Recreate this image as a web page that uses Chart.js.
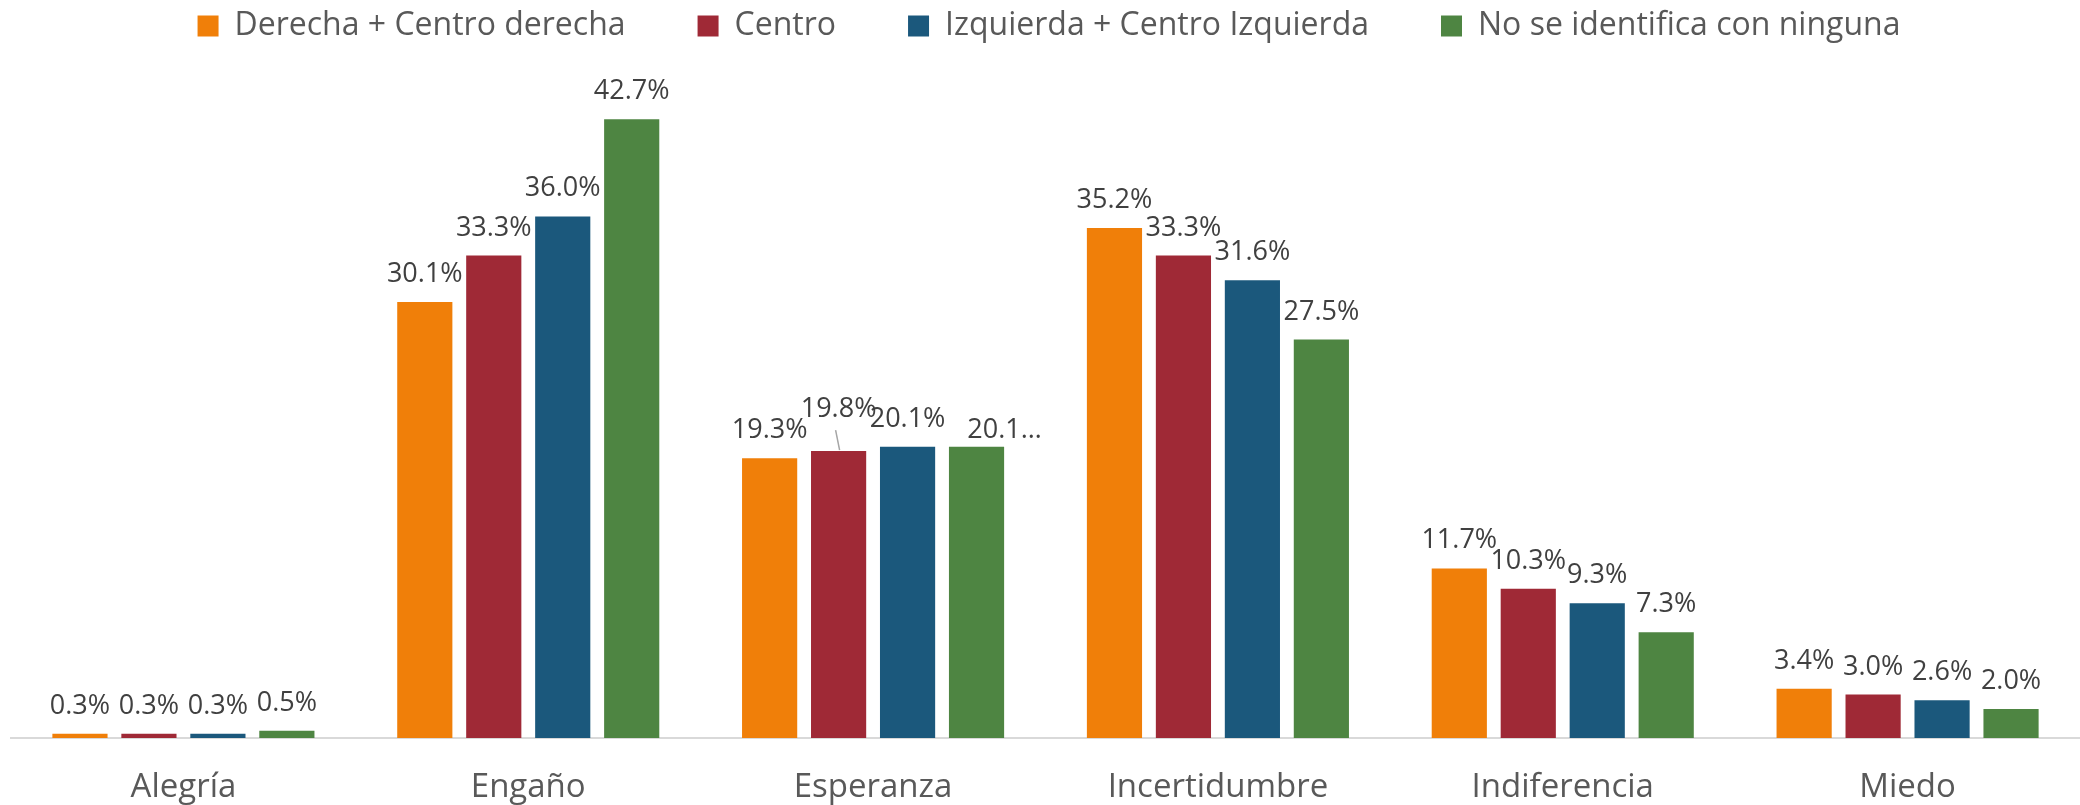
<!DOCTYPE html>
<html>
<head>
<meta charset="utf-8">
<script src="https://cdn.jsdelivr.net/npm/chart.js@4"></script>
<style>
  html, body { margin: 0; padding: 0; background: #ffffff; overflow: hidden; }
  #wrap { width: 2080px; height: 805px; position: relative; }
</style>
</head>
<body>
<div id="wrap"><canvas id="c" width="2080" height="805"></canvas></div>
<script>
const categories = ['Alegría', 'Engaño', 'Esperanza', 'Incertidumbre', 'Indiferencia', 'Miedo'];
const seriesNames = ['Derecha + Centro derecha', 'Centro', 'Izquierda + Centro Izquierda', 'No se identifica con ninguna'];
const derecha   = [0.3, 30.1, 19.3, 35.2, 11.7, 3.4];
const centro    = [0.3, 33.3, 19.8, 33.3, 10.3, 3.0];
const izquierda = [0.3, 36.0, 20.1, 31.6, 9.3, 2.6];
const ninguna   = [0.5, 42.7, 20.1, 27.5, 7.3, 2.0];
const seriesColors = ['#F07F09', '#9F2936', '#1B587C', '#4E8542'];

const FONT = "'Open Sans', 'Noto Sans', sans-serif";
const LEGEND_PAD = 72;

// label adjustments that mimic the reference (Excel placed these two differently)
const labelTweaks = {
  '1-2': { dy: -14, leader: true },
  '3-2': { dx: 28, dy: 11, text: '20.1…' }
};

const valueLabels = {
  id: 'valueLabels',
  afterDatasetsDraw(chart) {
    const ctx = chart.ctx;
    ctx.save();
    ctx.font = "27px " + FONT;
    ctx.fillStyle = '#404040';
    ctx.textAlign = 'center';
    ctx.textBaseline = 'alphabetic';
    chart.data.datasets.forEach((ds, di) => {
      const meta = chart.getDatasetMeta(di);
      meta.data.forEach((bar, i) => {
        const t = labelTweaks[di + '-' + i] || {};
        const text = t.text || (ds.data[i].toFixed(1) + '%');
        const x = bar.x + (t.dx || 0);
        const y = bar.y - 20 + (t.dy || 0);
        ctx.fillText(text, x, y);
        if (t.leader) {
          ctx.strokeStyle = '#A6A6A6';
          ctx.lineWidth = 1.5;
          ctx.beginPath();
          ctx.moveTo(bar.x - 3, y + 13);
          ctx.lineTo(bar.x + 1, bar.y - 1);
          ctx.stroke();
        }
      });
    });
    ctx.restore();
  }
};

const datasets = [derecha, centro, izquierda, ninguna].map((vals, k) => ({
  label: seriesNames[k],
  data: vals,
  backgroundColor: seriesColors[k],
  borderWidth: 0,
  barPercentage: 0.8,
  categoryPercentage: 0.8
}));

new Chart(document.getElementById('c'), {
  type: 'bar',
  data: { labels: categories, datasets },
  options: {
    responsive: false,
    animation: false,
    devicePixelRatio: 1,
    layout: { padding: { top: 10 - LEGEND_PAD, left: 11, right: -7, bottom: 0 } },
    plugins: {
      legend: {
        display: true,
        position: 'top',
        align: 'center',
        labels: {
          boxWidth: 21,
          boxHeight: 21,
          padding: LEGEND_PAD,
          color: '#595959',
          font: { family: FONT, size: 32 }
        }
      },
      tooltip: { enabled: false }
    },
    scales: {
      x: {
        type: 'category',
        position: 'bottom',
        grid: { display: false },
        border: { display: true, color: '#D9D9D9', width: 2 },
        ticks: { color: '#595959', font: { family: FONT, size: 33 }, padding: 22, maxRotation: 0 },
        afterFit(s) { s.height = 67; }
      },
      xTop: {
        type: 'category',
        position: 'top',
        display: true,
        grid: { display: false },
        border: { display: false },
        ticks: { display: false },
        afterFit(s) { s.height = 34; }
      },
      y: {
        display: false,
        min: 0,
        max: 45
      }
    }
  },
  plugins: [valueLabels]
});
</script>
</body>
</html>
